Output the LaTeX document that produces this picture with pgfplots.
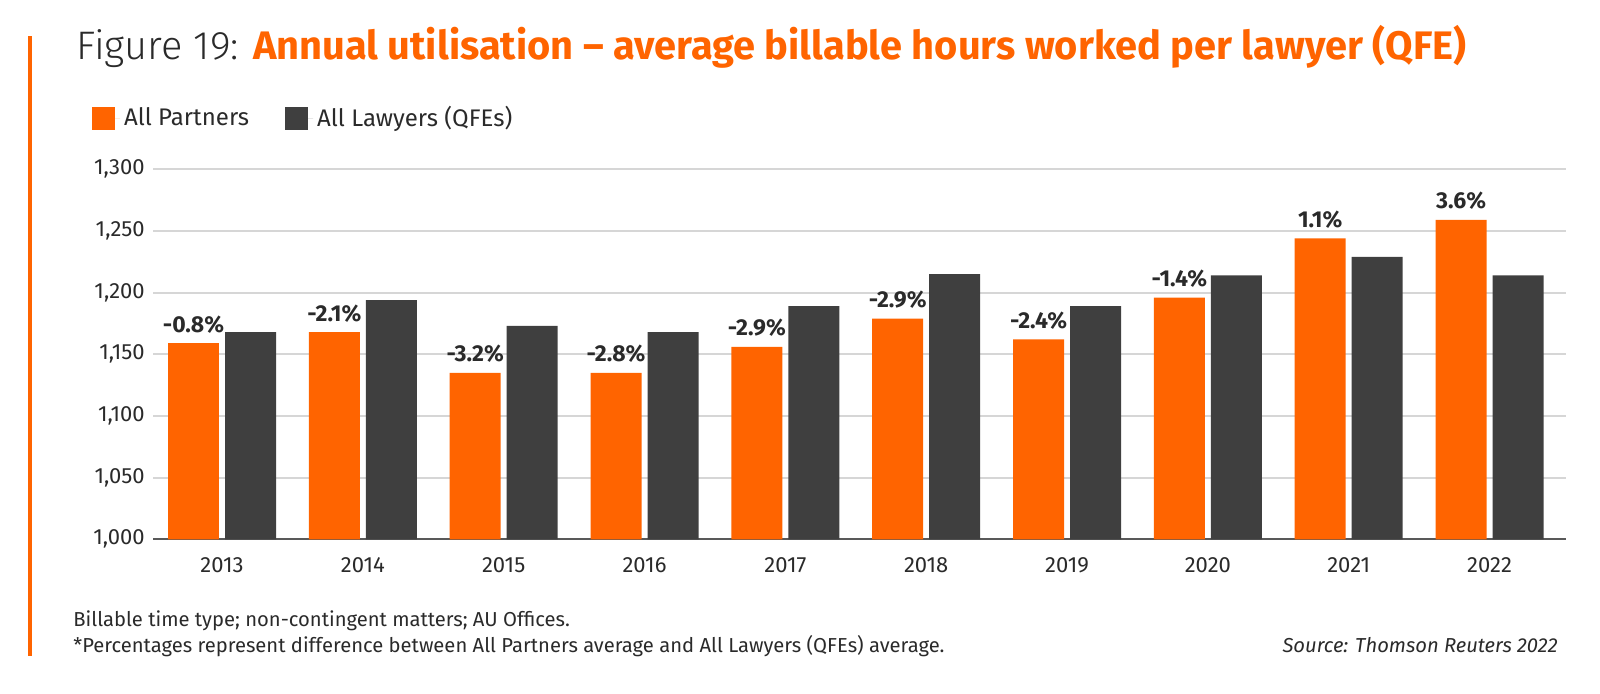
\documentclass[border=0pt]{standalone}
\usepackage{fontspec}
\setmainfont{Fira Sans}
\newfontfamily\lightfont{Fira Sans Light}
\usepackage{pgfplots}
\pgfplotsset{compat=1.18}
\definecolor{tro}{HTML}{FF6400}
\definecolor{trg}{HTML}{3F3F3F}
\definecolor{gridc}{HTML}{D6D6D6}
\definecolor{txt}{HTML}{2A2A2A}
\begin{document}
\begin{tikzpicture}
\fill[tro] (14.15pt,329pt) rectangle (15.85pt,19pt);
\node[anchor=base west,inner sep=0pt,font=\fontsize{19.9}{22}\selectfont] at (38pt,317.35pt)
  {{\lightfont\color{txt}Figure 19:} \textbf{\color{tro}Annual utilisation – average billable hours worked per lawyer (QFE)}};
\begin{axis}[
  at={(76.5pt,77.35pt)}, anchor=south west,
  scale only axis, width=706.5pt, height=185pt,
  ybar, bar width=0.362,
  xmin=-0.49, xmax=9.543, ymin=1000, ymax=1300,
  ytick={1000,1050,...,1300},
  xtick={0,...,9},
  xticklabels={2013,2014,2015,2016,2017,2018,2019,2020,2021,2022},
  /pgf/number format/assume math mode=true,
  /pgf/number format/1000 sep={,},
  ymajorgrids, grid style={gridc,line width=1pt},
  axis x line*=bottom, axis y line*=left,
  y axis line style={draw=none},
  x axis line style={draw=black!65,line width=1.2pt},
  tick style={draw=none},
  ticklabel style={font=\fontsize{11}{13}\selectfont,text=txt},
  yticklabel style={xshift=-0.6pt},
  xticklabel style={yshift=-1.4pt},
  legend columns=2,
  legend style={at={(-0.0434,1.1386)},anchor=west,draw=none,fill=none,
    inner xsep=0pt,inner ysep=0pt,font=\fontsize{12}{14}\selectfont,text=txt,
    /tikz/every even column/.append style={column sep=16pt}},
  legend image code/.code={\fill[#1] (0pt,-5.75pt) rectangle (11.5pt,5.75pt); \path (0pt,0pt) -- (14pt,0pt);},
  nodes near coords,
  nodes near coords style={font=\bfseries\fontsize{11.5}{13}\selectfont,text=txt,yshift=1.5pt},
]
\addplot[fill=tro,draw=none,bar shift=-0.2024,point meta=explicit symbolic] coordinates {
 (0,1159) [-0.8\%]
 (1,1168) [-2.1\%]
 (2,1135) [-3.2\%]
 (3,1135) [-2.8\%]
 (4,1156) [-2.9\%]
 (5,1179) [-2.9\%]
 (6,1162) [-2.4\%]
 (7,1196) [-1.4\%]
 (8,1244) [1.1\%]
 (9,1259) [3.6\%]
};
\addplot[fill=trg,draw=none,bar shift=0.2024,nodes near coords={}] coordinates {
 (0,1168) (1,1194) (2,1173) (3,1168) (4,1189)
 (5,1215) (6,1189) (7,1214) (8,1229) (9,1214)
};
\legend{All Partners,All Lawyers (QFEs)}
\end{axis}
\node[anchor=base west,inner sep=0pt,font=\fontsize{10.1}{12}\selectfont,text=txt] at (36.5pt,33.5pt)
  {Billable time type; non-contingent matters; AU Offices.};
\node[anchor=base west,inner sep=0pt,font=\fontsize{10.1}{12}\selectfont,text=txt] at (36.5pt,20.5pt)
  {*Percentages represent difference between All Partners average and All Lawyers (QFEs) average.};
\node[anchor=base east,inner sep=0pt,font=\itshape\fontsize{10.1}{12}\selectfont,text=txt] at (779pt,20.5pt)
  {Source: Thomson Reuters 2022};
\pgfresetboundingbox
\useasboundingbox (0,0) rectangle (800pt,347pt);
\end{tikzpicture}
\end{document}
